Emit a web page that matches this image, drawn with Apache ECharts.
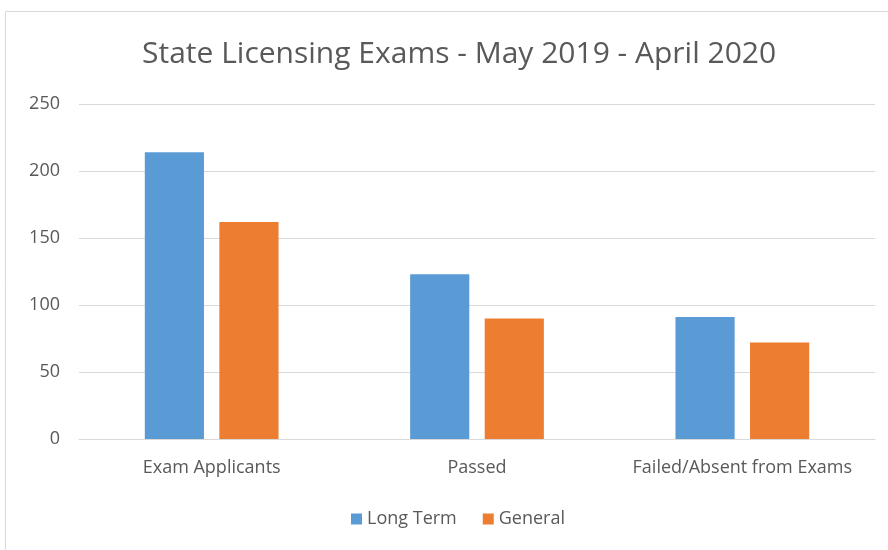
<!DOCTYPE html>
<html>
<head>
<meta charset="utf-8">
<script src="https://cdn.jsdelivr.net/npm/echarts@6/dist/echarts.min.js"></script>
<style>
  html, body { margin: 0; padding: 0; background: #fff; }
  #chart { width: 888px; height: 550px; }
</style>
</head>
<body>
<div id="chart"></div>
<script>
// data
const categories = ['Exam Applicants', 'Passed', 'Failed/Absent from Exams'];
const longTerm = [214, 123, 91];
const general = [162, 90, 72];
const yTicks = [0, 50, 100, 150, 200, 250];

const textColor = '#595959';
const font = 'Open Sans';

const chart = echarts.init(document.getElementById('chart'));

const option = {
    backgroundColor: '#fff',
    animation: false,
    title: {
        text: 'State Licensing Exams - May 2019 - April 2020',
        left: 137,
        top: 34,
        textStyle: { color: textColor, fontSize: 30, fontWeight: 'normal', fontFamily: font }
    },
    graphic: [{
        type: 'rect',
        shape: { x: 5.5, y: 11.5, width: 900, height: 600 },
        style: { fill: 'none', stroke: '#d9d9d9', lineWidth: 1 },
        silent: true
    }],
    legend: {
        bottom: 17,
        left: 346,
        itemWidth: 11,
        itemHeight: 11,
        itemGap: 26,
        icon: 'rect',
        textStyle: { color: textColor, fontSize: 18, fontFamily: font }
    },
    grid: { left: 79, right: 13, top: 104, bottom: 111 },
    xAxis: {
        type: 'category',
        data: categories,
        axisLine: { lineStyle: { color: '#d9d9d9', width: 1 } },
        axisTick: { show: false },
        axisLabel: { color: textColor, fontSize: 18, fontFamily: font, margin: 20, interval: 0, hideOverlap: false }
    },
    yAxis: {
        type: 'value',
        min: yTicks[0],
        max: yTicks[yTicks.length - 1],
        interval: 50,
        axisLine: { show: false },
        axisTick: { show: false },
        splitLine: { lineStyle: { color: '#d9d9d9', width: 1 } },
        axisLabel: { color: textColor, fontSize: 18, fontFamily: font, margin: 19 }
    },
    series: [
        {
            name: 'Long Term',
            type: 'bar',
            data: longTerm,
            barWidth: '22.3%',
            barGap: '26%',
            itemStyle: { color: '#5b9bd5' }
        },
        {
            name: 'General',
            type: 'bar',
            data: general,
            barWidth: '22.3%',
            itemStyle: { color: '#ed7d31' }
        }
    ]
};

chart.setOption(option);
</script>
</body>
</html>
